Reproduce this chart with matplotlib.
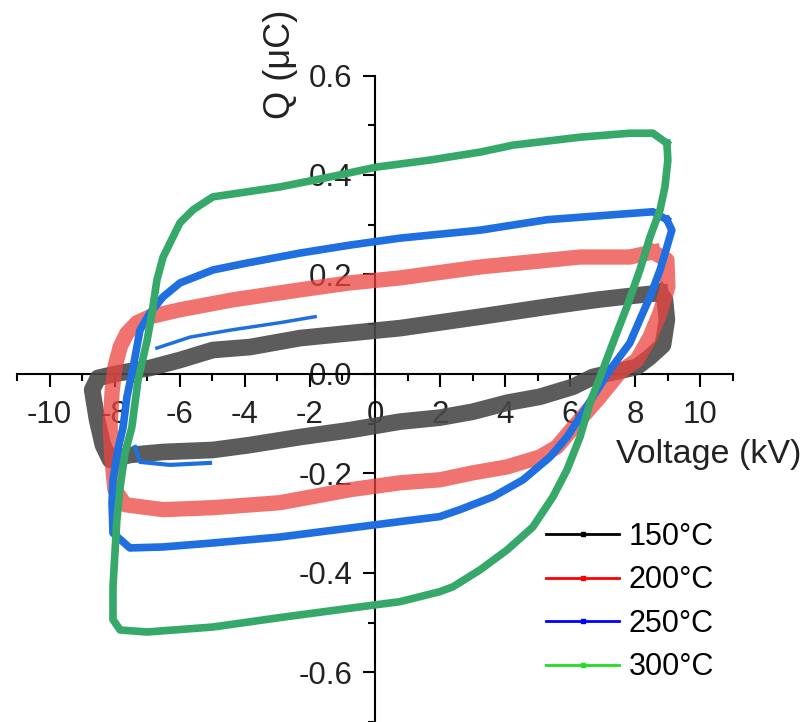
import numpy as np
import matplotlib
matplotlib.use("Agg")
import matplotlib.pyplot as plt
from matplotlib.lines import Line2D
from matplotlib.ticker import MultipleLocator

plt.rcParams['font.family'] = ['Liberation Sans', 'DejaVu Sans']
plt.rcParams['axes.unicode_minus'] = False

# loops: voltage (kV), charge (uC)
v_150 = [8.76, 7.62, 6.82, 5.28, 3.23, 0.77, -0.77, -2.30, -3.84, -4.98, -5.99, -6.91,
         -7.83, -8.51, -8.69, -8.54, -8.36, -8.14, -7.53, -6.51, -4.98, -3.84, -2.30,
         -0.77, 0.77, 1.99, 3.01, 4.06, 5.07, 6.08, 6.70, 8.05, 8.45, 8.85, 8.97, 8.91, 8.76]
q_150 = [0.163, 0.155, 0.149, 0.135, 0.115, 0.092, 0.082, 0.072, 0.054, 0.048, 0.028, 0.012,
         0.002, -0.008, -0.032, -0.092, -0.143, -0.173, -0.163, -0.157, -0.153, -0.143, -0.127,
         -0.113, -0.096, -0.088, -0.076, -0.058, -0.046, -0.026, -0.006, 0.014, 0.034, 0.058,
         0.109, 0.149, 0.163]

v_200 = [8.54, 7.83, 6.30, 3.23, 0.77, -0.77, -2.30, -4.36, -5.99, -6.91, -7.31, -7.62,
         -7.83, -7.99, -8.08, -8.14, -8.08, -7.99, -7.68, -6.51, -4.98, -2.92, -0.77, 0.77,
         1.99, 3.01, 4.06, 5.07, 5.59, 6.30, 6.91, 7.53, 8.05, 8.45, 8.76, 9.00, 8.97, 8.54]
q_200 = [0.245, 0.235, 0.235, 0.215, 0.193, 0.183, 0.169, 0.149, 0.129, 0.115, 0.103, 0.082,
         0.054, 0.014, -0.038, -0.107, -0.173, -0.233, -0.263, -0.273, -0.269, -0.259, -0.233,
         -0.219, -0.213, -0.199, -0.187, -0.167, -0.147, -0.092, -0.046, 0.004, 0.028, 0.074,
         0.123, 0.175, 0.229, 0.245]

v_250 = [8.97, 8.54, 7.31, 5.28, 3.23, 0.77, -0.77, -2.30, -3.93, -4.98, -5.99, -6.51,
         -6.91, -7.22, -7.43, -7.62, -7.74, -7.90, -8.05, -8.08, -8.05, -7.53, -6.51, -4.98,
         -2.92, -0.77, 0.77, 1.99, 2.61, 3.63, 4.55, 5.38, 5.90, 6.39, 7.22, 7.83, 8.14,
         8.45, 8.76, 8.97, 9.12, 8.97]
q_250 = [0.310, 0.326, 0.320, 0.310, 0.289, 0.273, 0.259, 0.243, 0.223, 0.209, 0.183, 0.155,
         0.123, 0.088, 0.014, -0.046, -0.107, -0.153, -0.213, -0.259, -0.320, -0.350, -0.348,
         -0.340, -0.328, -0.310, -0.297, -0.287, -0.273, -0.247, -0.213, -0.167, -0.127,
         -0.078, 0.008, 0.062, 0.109, 0.155, 0.209, 0.255, 0.289, 0.310]

# short extra traces of the 250 C run
v_250b = [-6.70, -5.68, -4.45, -2.92, -1.84]
q_250b = [0.052, 0.074, 0.088, 0.103, 0.115]
v_250c = [-7.37, -7.22, -6.30, -5.07]
q_250c = [-0.147, -0.177, -0.183, -0.179]

v_300 = [8.97, 8.54, 7.83, 6.30, 4.24, 3.23, 1.69, 0.06, -1.38, -2.92, -4.15, -4.98, -5.59,
         -5.99, -6.21, -6.51, -6.70, -6.85, -7.00, -7.28, -7.47, -7.68, -7.83, -7.93, -7.99,
         -8.05, -8.05, -7.83, -7.00, -4.98, -2.92, 0.06, 0.77, 1.99, 2.40, 3.23, 4.06, 4.85,
         5.47, 5.90, 6.30, 6.61, 7.00, 7.31, 7.74, 8.14, 8.45, 8.76, 8.91, 9.00, 8.97]
q_300 = [0.464, 0.484, 0.484, 0.476, 0.460, 0.446, 0.430, 0.416, 0.396, 0.376, 0.364, 0.356,
         0.330, 0.304, 0.275, 0.235, 0.189, 0.123, 0.068, -0.012, -0.107, -0.159, -0.227,
         -0.293, -0.360, -0.428, -0.494, -0.515, -0.519, -0.509, -0.490, -0.464, -0.458,
         -0.438, -0.428, -0.394, -0.354, -0.308, -0.247, -0.193, -0.127, -0.058, 0.008,
         0.062, 0.135, 0.209, 0.275, 0.330, 0.376, 0.430, 0.464]

labels = ['150°C', '200°C', '250°C', '300°C']
data_colors = ['#4a4a4a', '#ec4440', '#1f6fe0', '#36a96a']
legend_colors = ['black', 'red', 'blue', '#22dd22']

fig = plt.figure(figsize=(8.05, 7.22), dpi=100)
ax = fig.add_axes([0.0211, 0.0, 0.8894, 0.8954])

ax.plot(v_150, q_150, color=data_colors[0], lw=12, alpha=0.9, solid_joinstyle='round', zorder=3)
ax.plot(v_200, q_200, color=data_colors[1], lw=11, alpha=0.75, solid_joinstyle='round', zorder=3)
ax.plot(v_250, q_250, color=data_colors[2], lw=5.5, solid_joinstyle='round', zorder=4)
ax.plot(v_250b, q_250b, color=data_colors[2], lw=2.5, zorder=4)
ax.plot(v_250c, q_250c, color=data_colors[2], lw=3, zorder=4)
ax.plot(v_300, q_300, color=data_colors[3], lw=5.5, solid_joinstyle='round', zorder=5)

ax.set_xlim(-11, 11)
ax.set_ylim(-0.7, 0.6)
ax.set_axisbelow(True)

ax.spines['left'].set_position('zero')
ax.spines['bottom'].set_position('zero')
ax.spines['top'].set_visible(False)
ax.spines['right'].set_visible(False)
for s in ['left', 'bottom']:
    ax.spines[s].set_linewidth(1.5)

ax.xaxis.set_major_locator(MultipleLocator(2))
ax.xaxis.set_minor_locator(MultipleLocator(1))
ax.yaxis.set_major_locator(MultipleLocator(0.2))
ax.yaxis.set_minor_locator(MultipleLocator(0.1))
ax.yaxis.set_major_formatter(matplotlib.ticker.FormatStrFormatter('%.1f'))

ax.tick_params(axis='both', which='major', direction='out', length=9, width=1.5,
               labelsize=22.5, color='black')
ax.tick_params(axis='both', which='minor', direction='out', length=5, width=1.5)
ax.tick_params(axis='x', which='major', pad=10)
ax.tick_params(axis='y', which='major', pad=7)
for t in ax.get_xticklabels() + ax.get_yticklabels():
    t.set_color('#222222')

fig.text(0.880, 0.371, 'Voltage (kV)', fontsize=24.5, ha='center', va='center', color='#222222')
fig.text(0.348, 0.911, 'Q (μC)', fontsize=26, rotation=90, ha='center', va='center', color='#222222')

handles = [Line2D([], [], color=c, lw=2, marker='s', markersize=3) for c in legend_colors]
ax.legend(handles, labels, loc='upper left', bbox_to_anchor=(546 / 805, 1 - 522 / 722),
          bbox_transform=fig.transFigure, frameon=False, fontsize=22, handlelength=2.4,
          handletextpad=0.3, labelspacing=0.44, borderpad=0, borderaxespad=0)

fig.savefig('out.png', dpi=100)
